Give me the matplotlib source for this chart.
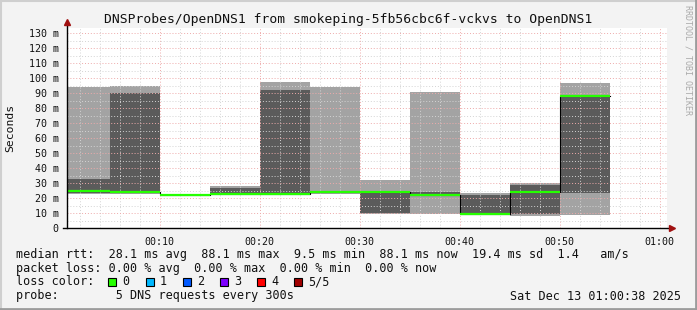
import matplotlib
matplotlib.use('Agg')
import matplotlib.pyplot as plt
from matplotlib.ticker import MultipleLocator, FixedLocator
from matplotlib.lines import Line2D
from matplotlib.patches import Rectangle

plt.rcParams['font.family'] = 'DejaVu Sans Mono'

# 5 minute steps (minutes after 00:00), 5 sorted pings per step, in ms
starts = [0, 5, 10, 15, 20, 25, 30, 35, 40, 45, 50]
ping_min = [23.0, 22.8, 21.6, 22.5, 22.5, 22.6, 9.5, 9.3, 9.0, 8.2, 8.9]
ping_lo = [23.5, 23.3, 21.9, 22.7, 22.7, 23.2, 10.4, 21.8, 9.3, 9.6, 23.3]
median = [25.0, 24.2, 22.2, 23.1, 23.1, 24.0, 24.2, 22.4, 9.5, 24.4, 88.1]
ping_hi = [32.9, 90.4, 22.5, 26.9, 92.2, 24.6, 24.6, 24.2, 22.0, 28.9, 89.0]
ping_max = [94.0, 94.8, 22.7, 28.2, 97.5, 94.0, 32.2, 90.9, 23.3, 30.2, 96.9]
step = 5

x_ticks = [10, 20, 30, 40, 50, 60]
x_labels = ['00:10', '00:20', '00:30', '00:40', '00:50', '01:00']
y_ticks = list(range(0, 140, 10))
y_labels = ['0'] + ['%d m' % v for v in y_ticks[1:]]

loss_labels = ['0', '1', '2', '3', '4', '5/5']
loss_colors = ['#26ff00', '#00b8ff', '#0059ff', '#7e00ff', '#ff0000', '#a10000']

title = 'DNSProbes/OpenDNS1 from smokeping-5fb56cbc6f-vckvs to OpenDNS1'
stats_rtt = 'median rtt:  28.1 ms avg  88.1 ms max  9.5 ms min  88.1 ms now  19.4 ms sd  1.4   am/s'
stats_loss = 'packet loss: 0.00 % avg  0.00 % max  0.00 % min  0.00 % now'
probe_txt = 'probe:        5 DNS requests every 300s'
stamp = 'Sat Dec 13 01:00:38 2025'

W, H = 697, 310
fig = plt.figure(figsize=(W / 100, H / 100), dpi=100, facecolor='#f3f3f3')


def fx(px):
    return px / W


def fy(py):
    return 1 - py / H


ax = fig.add_axes([fx(67), fy(228.3), 600 / W, 200 / H])
ax.set_facecolor('white')

# smoke
ax.bar(starts, [b - a for a, b in zip(ping_min, ping_max)], bottom=ping_min,
       width=step, align='edge', color='#a3a3a3', linewidth=0, zorder=1)
ax.bar(starts, [b - a for a, b in zip(ping_lo, ping_hi)], bottom=ping_lo,
       width=step, align='edge', color='#5b5b5b', linewidth=0, zorder=1.1)
# median: black step, green band
edges = starts + [starts[-1] + step]
ax.step(edges, median + [median[-1]], where='post', color='black', lw=0.8, zorder=3)
ax.hlines(median, starts, [s + step for s in starts], color=loss_colors[0], lw=1.6, zorder=3.1)

ax.set_xlim(0.73, 60.73)
ax.set_ylim(0, 133.3)

ax.xaxis.set_major_locator(FixedLocator(x_ticks))
ax.set_xticklabels(x_labels)
ax.xaxis.set_minor_locator(MultipleLocator(2))
ax.yaxis.set_major_locator(FixedLocator(y_ticks))
ax.set_yticklabels(y_labels)
ax.yaxis.set_minor_locator(MultipleLocator(5))

ax.grid(which='minor', color='#d4d4d4', linestyle=(0, (1, 2)), lw=0.7)
ax.grid(which='major', color='#eeaaaa', linestyle=(0, (1, 2)), lw=0.7)
ax.set_axisbelow(False)

ax.tick_params(which='both', length=0, labelsize=7.2, colors='#111111')
ax.tick_params(axis='x', pad=6)
ax.tick_params(axis='y', pad=6)
for s in ax.spines.values():
    s.set_visible(False)

# axes lines with arrows
ax.add_line(Line2D([-0.006, 1.005], [0, 0], transform=ax.transAxes, color='black', lw=1, clip_on=False, zorder=5))
ax.add_line(Line2D([0, 0], [0, 1.02], transform=ax.transAxes, color='black', lw=1, clip_on=False, zorder=5))
ax.plot([0], [1.03], marker='^', ms=5, color='#a01010', transform=ax.transAxes, clip_on=False, zorder=6)
ax.plot([1.008], [0], marker='>', ms=5, color='#a01010', transform=ax.transAxes, clip_on=False, zorder=6)

fig.text(fx(348), fy(19), title, ha='center', va='center', fontsize=9.4, color='#111111')
fig.text(fx(10), fy(128), 'Seconds', rotation=90, ha='center', va='center', fontsize=8.2, color='#111111')
fig.text(fx(688), fy(5), 'RRDTOOL / TOBI OETIKER', rotation=270, ha='center', va='top',
         fontsize=6, color='#aaaaaa')

fs = 8.5
fig.text(fx(16), fy(254.3), stats_rtt, ha='left', va='center', fontsize=fs, color='#111111')
fig.text(fx(16), fy(268.3), stats_loss, ha='left', va='center', fontsize=fs, color='#111111')
fig.text(fx(16), fy(281.7), 'loss color:', ha='left', va='center', fontsize=fs, color='#111111')
fig.text(fx(16), fy(296), probe_txt, ha='left', va='center', fontsize=fs, color='#111111')
fig.text(fx(681), fy(296), stamp, ha='right', va='center', fontsize=fs, color='#111111')

box_x = 108.3
for lab, col in zip(loss_labels, loss_colors):
    fig.patches.append(Rectangle((fx(box_x), fy(285.7)), 8 / W, 8 / H, transform=fig.transFigure,
                                 facecolor=col, edgecolor='black', lw=0.8))
    fig.text(fx(box_x + 14), fy(281.7), lab, ha='left', va='center', fontsize=fs, color='#111111')
    box_x += 37.2

# frame
fig.add_artist(Line2D([0, 1], [1 - 0.5 / H, 1 - 0.5 / H], transform=fig.transFigure, color='#cfcfcf', lw=1.5))
fig.add_artist(Line2D([0.5 / W, 0.5 / W], [0, 1], transform=fig.transFigure, color='#cfcfcf', lw=1.5))
fig.add_artist(Line2D([0, 1], [1 / H, 1 / H], transform=fig.transFigure, color='#9c9c9c', lw=2))
fig.add_artist(Line2D([1 - 1 / W, 1 - 1 / W], [0, 1], transform=fig.transFigure, color='#9c9c9c', lw=2))

fig.savefig('out.png', dpi=100, facecolor=fig.get_facecolor())
